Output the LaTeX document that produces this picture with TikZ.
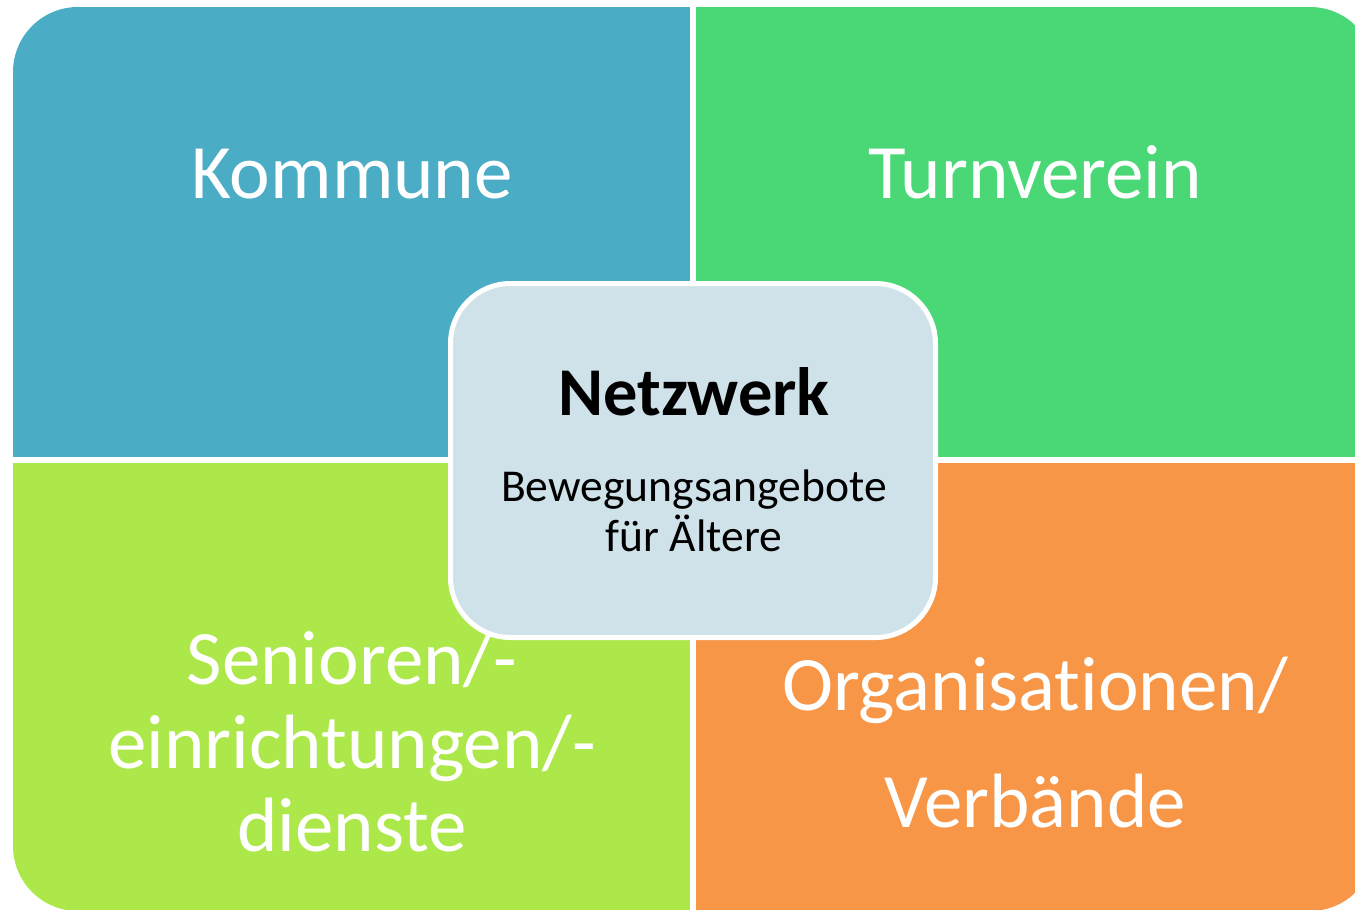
\documentclass[tikz,border=0pt]{standalone}
\usepackage{fontspec}
\setmainfont{Carlito}[Ligatures=CommonOff]
\usepackage{xcolor}
\usepackage{tikz}
\usetikzlibrary{positioning}

\definecolor{kommuneblau}{HTML}{4BACC6}
\definecolor{vereingruen}{HTML}{4AD876}
\definecolor{seniorgruen}{HTML}{ADE84A}
\definecolor{verbandorange}{HTML}{F79646}
\definecolor{netzgrau}{HTML}{D0E2E9}

\begin{document}
\begin{tikzpicture}[
    x=0.5pt, y=-0.5pt,
    feld/.style={text=white, font=\fontsize{38.5}{41.75}\selectfont, align=center, inner sep=0pt},
    weitfeld/.style={feld, font=\fontsize{38.5}{58.5}\selectfont},
    zentrum/.style={draw=white, line width=2.5pt, fill=netzgrau, rounded corners=30pt, minimum width=242.5pt, minimum height=177pt},
    titel/.style={font=\bfseries\fontsize{34.2}{38}\selectfont, inner sep=0pt},
    unter/.style={font=\fontsize{22.8}{25}\selectfont, align=center, inner sep=0pt}
]
    \useasboundingbox (0,0) rectangle (1355,910);
    \begin{scope}
        \clip (0,0) rectangle (1355,910);
        \clip[rounded corners=32.5pt] (13,7) rectangle (1375,911);
        \fill[kommuneblau] (13,7) rectangle (690,457);
        \fill[vereingruen] (696,7) rectangle (1375,457);
        \fill[seniorgruen] (13,463) rectangle (690,911);
        \fill[verbandorange] (696,463) rectangle (1375,911);
    \end{scope}

    \node [feld, anchor=base] (kommune) at (352,198) {Kommune};
    \node [feld, anchor=base] (turnverein) at (1035,198) {Turnverein};
    \node [feld] (senioren) at (352,742) {Senioren/-\\einrichtungen/-\\dienste};
    \node [weitfeld] (verbaende) at (1035,743) {Organisationen/\\Verbände};

    \node [zentrum] (netz) at (693,460.5) {};
    \node [titel, anchor=base] (netztitel) at (694,415) {Netzwerk};
    \node [unter] (angebote) at (694,511) {Bewegungsangebote\\für Ältere};
\end{tikzpicture}
\end{document}
